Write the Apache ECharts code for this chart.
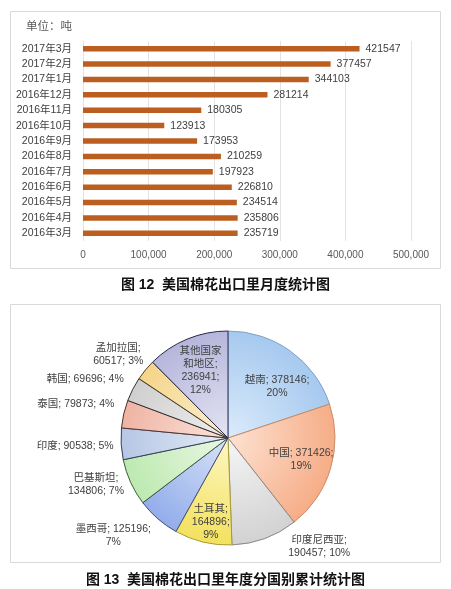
<!DOCTYPE html>
<html><head><meta charset="utf-8">
<script src="https://cdn.jsdelivr.net/npm/echarts@6/dist/echarts.min.js"></script>
<style>html,body{margin:0;padding:0;background:#fff}#c{width:451px;height:589px}</style>
</head><body><div id="c"></div>
<script>
// ---- data ----
const months = ['2016年3月','2016年4月','2016年5月','2016年6月','2016年7月','2016年8月','2016年9月','2016年10月','2016年11月','2016年12月','2017年1月','2017年2月','2017年3月'];
const monthlyExports = [235719,235806,234514,226810,197923,210259,173953,123913,180305,281214,344103,377457,421547];
const xAxisTicks = [0,100000,200000,300000,400000,500000];
const countries = ['越南','中国','印度尼西亚','土耳其','墨西哥','巴基斯坦','印度','泰国','韩国','孟加拉国','其他国家和地区'];
const countryExports = [378146,371426,190457,164896,125196,134806,90538,79873,69696,60517,236941];
const unitText = '单位：吨';
const caption12 = '图 12  美国棉花出口里月度统计图';
const caption13 = '图 13  美国棉花出口里年度分国别累计统计图';

// ---- styles ----
const FONT = '"Liberation Sans","Noto Sans CJK SC",sans-serif';
const sliceColors = [ // inner, outer, border
  ['#dcebfb','#a6c9ef','#7f9fc8'],
  ['#fde2d2','#f6ad87','#c98a68'],
  ['#f6f6f6','#d2d2d2','#8a8a8a'],
  ['#fdf7c4','#f3e15e','#a89a3a'],
  ['#d9e3f8','#93adeb','#3e4c78'],
  ['#e9f8e4','#bde9b0','#3e5a3e'],
  ['#e6ecf6','#b6c6e4','#34405e'],
  ['#fbe3dc','#efb4a3','#4e3434'],
  ['#f0f0f0','#cfcfcf','#333333'],
  ['#fcf0d2','#f4d488','#4a3e26'],
  ['#e4e4f2','#b6b6dc','#2a2a48']
];
const labelTemplates = [
  '{b}; {c};\n{d}%',
  '{b}; {c};\n{d}%',
  '{b};\n{c}; {d}%',
  '{b};\n{c};\n{d}%',
  '{b}; {c};\n{d}%',
  '{b};\n{c}; {d}%',
  '{b}; {c}; {d}%',
  '{b}; {c}; {d}%',
  '{b}; {c}; {d}%',
  '{b};\n{c}; {d}%',
  '{b4};\n{c};\n{d}%'
];
const labelPlacement = [ // position, dx, dy
  ['inside',16,-6],
  ['inside',19,5],
  ['outside',48,4],
  ['inside',-4,29],
  ['outside',-37,14],
  ['outside',-26,1],
  ['outside',-37,2],
  ['outside',-39,-9],
  ['outside',-39,-8],
  ['outside',-19,-13],
  ['inside',-6,-15]
];
const pieCx = 228, pieCy = 438, pieR = 107;

const chart = echarts.init(document.getElementById('c'), null, {renderer:'canvas'});

const pieData = countries.map((n,i)=>({
  name:n, value:countryExports[i],
  itemStyle:{
    color:{type:'radial',x:pieCx,y:pieCy,r:pieR,global:true,
      colorStops:[{offset:0,color:sliceColors[i][0]},{offset:1,color:sliceColors[i][1]}]},
    borderColor:sliceColors[i][2], borderWidth:1
  },
  label:{position:labelPlacement[i][0]}
}));

chart.setOption({
  backgroundColor:'#fff',
  animation:false,
  textStyle:{fontFamily:FONT},
  graphic:[
    {type:'rect',shape:{x:10.5,y:11.5,width:430,height:257},style:{fill:'none',stroke:'#d9d9d9',lineWidth:1},z:-1},
    {type:'rect',shape:{x:10.5,y:304.5,width:430,height:258},style:{fill:'none',stroke:'#d9d9d9',lineWidth:1},z:-1}
  ],
  title:[
    {text:unitText,left:21,top:16,textStyle:{fontSize:11.5,fontWeight:'normal',color:'#595959',fontFamily:FONT}},
    {text:caption12,left:'center',top:273,textStyle:{fontSize:14,fontWeight:'bold',color:'#111',fontFamily:FONT}},
    {text:caption13,left:'center',top:568,textStyle:{fontSize:14,fontWeight:'bold',color:'#111',fontFamily:FONT}}
  ],
  grid:{left:83,right:40,top:41,height:200,containLabel:false},
  xAxis:{type:'value',min:xAxisTicks[0],max:xAxisTicks[xAxisTicks.length-1],interval:xAxisTicks[1]-xAxisTicks[0],
    axisLine:{show:false},axisTick:{show:false},
    splitLine:{show:true,lineStyle:{color:'#e3e3e3',width:1}},
    axisLabel:{color:'#595959',fontSize:10,margin:9,fontFamily:FONT}},
  yAxis:{type:'category',data:months,
    axisLine:{show:false},axisTick:{show:false},
    axisLabel:{color:'#404040',fontSize:10.5,margin:11,fontFamily:FONT}},
  series:[
    {type:'bar',data:monthlyExports,barWidth:5.5,
      itemStyle:{color:'#bc5e1f'},
      label:{show:true,position:'right',distance:6,color:'#404040',fontSize:10.5,fontFamily:FONT}},
    {type:'pie',center:[pieCx,pieCy],radius:pieR,startAngle:90,clockwise:true,
      percentPrecision:0,avoidLabelOverlap:false,
      data:pieData,
      label:{show:true,color:'#404040',fontSize:10.5,lineHeight:13,fontFamily:FONT,align:'center',
        formatter:p=>labelTemplates[p.dataIndex]
          .replace('{b4}',p.name.slice(0,4)+'\n'+p.name.slice(4))
          .replace('{b}',p.name).replace('{c}',p.value).replace('{d}',p.percent)},
      labelLine:{show:false,length:4,length2:0},
      labelLayout:p=>({dx:labelPlacement[p.dataIndex][1],dy:labelPlacement[p.dataIndex][2],align:'center'}),
      emphasis:{disabled:true}}
  ]
});
</script></body></html>
